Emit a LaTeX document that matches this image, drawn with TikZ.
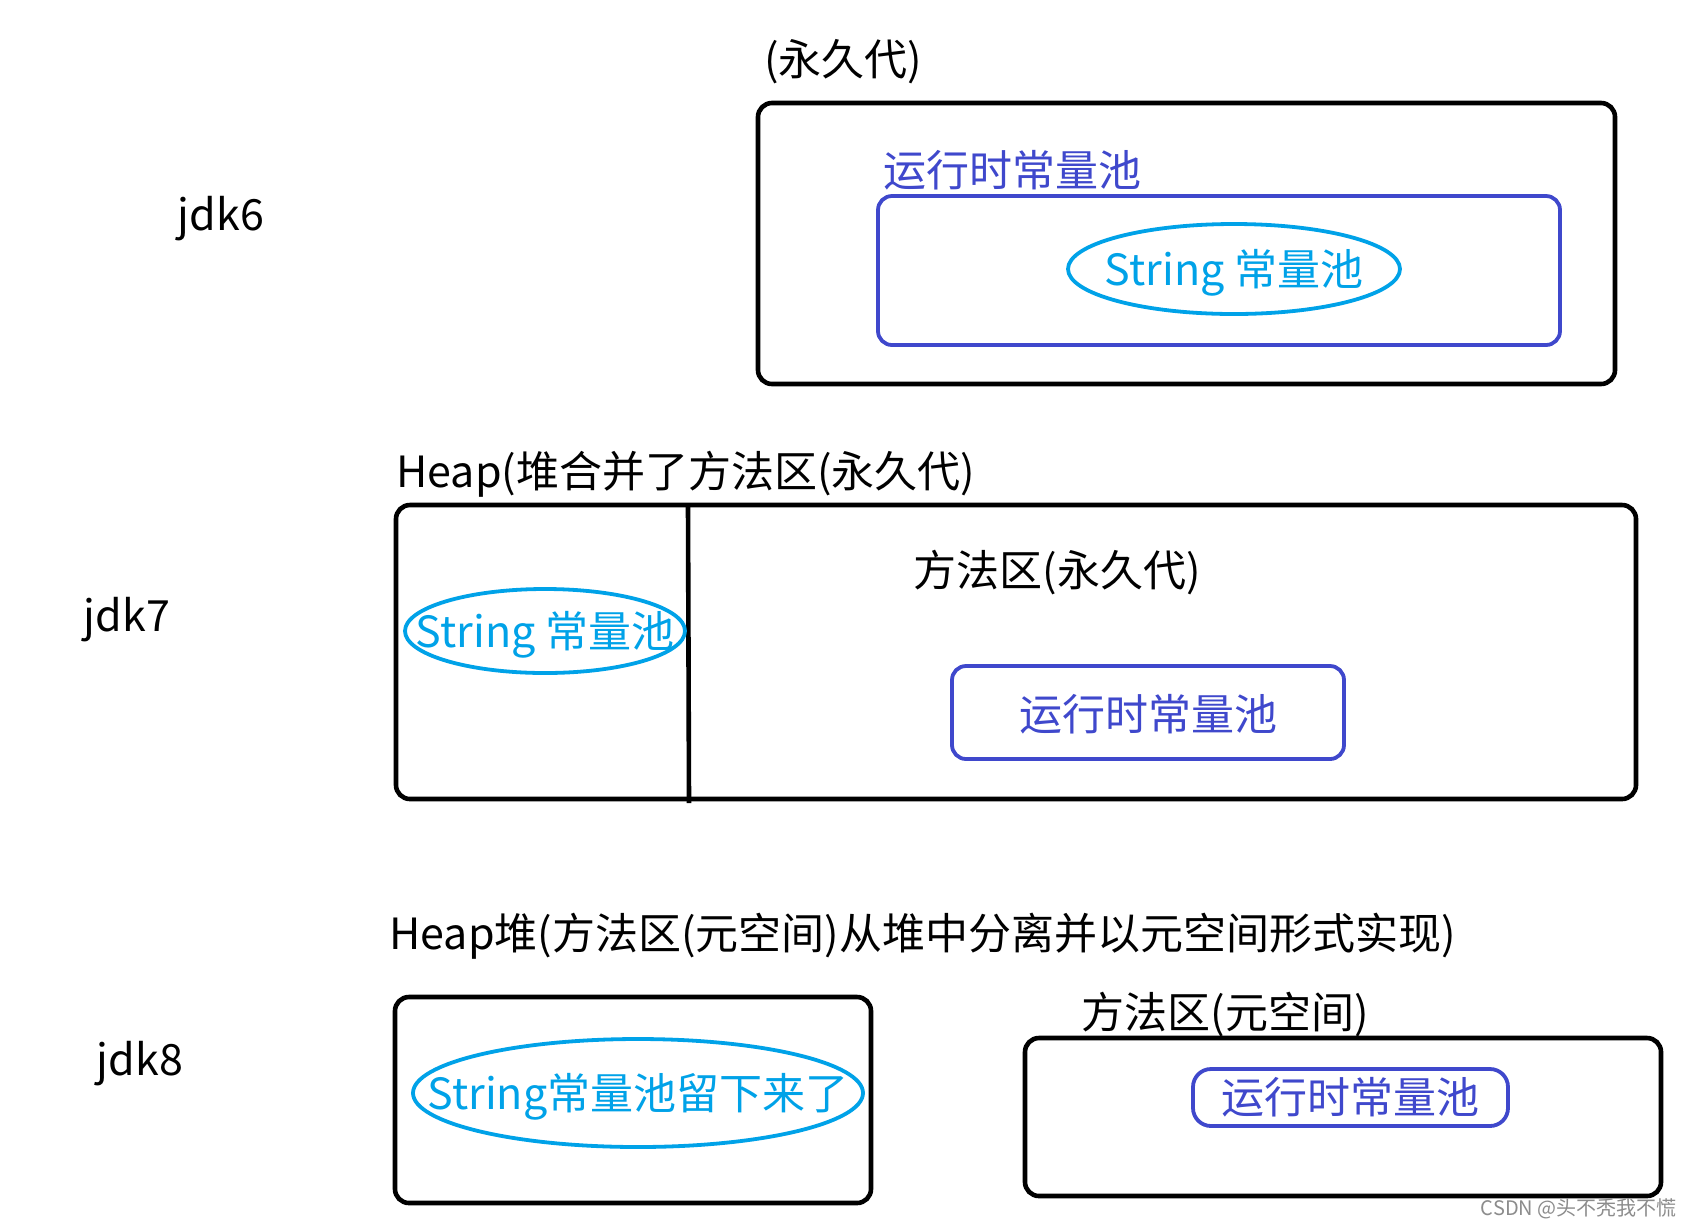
\documentclass[tikz,border=0pt]{standalone}
\usepackage{fontspec}
\setmainfont{Noto Sans CJK SC}
\usetikzlibrary{shapes.geometric}
\definecolor{indigo}{HTML}{3F48CC}
\definecolor{skyb}{HTML}{00A2E8}
\tikzset{
  lbl/.style={font=\fontsize{21.5pt}{24pt}\selectfont, inner sep=0pt, text=black, yshift=-1.5pt},
  bigbox/.style={draw=black, line width=2.3pt, rounded corners=7pt, inner sep=0pt},
  bluebox/.style={draw=indigo, line width=1.9pt, rounded corners=7pt, inner sep=0pt, text=indigo, font=\fontsize{21.5pt}{24pt}\selectfont},
  oval/.style={ellipse, draw=skyb, line width=1.9pt, inner sep=0pt},
  ovaltext/.style={inner sep=0pt, text=skyb, font=\fontsize{21.5pt}{24pt}\selectfont, yshift=-2pt},
}
\begin{document}
\begin{tikzpicture}[x=0.5pt, y=-0.5pt]
\useasboundingbox[fill=white] (0,0) rectangle (1693,1228);
% jdk6
\node[lbl] (j6) at (221,216) {jdk6};
\node[lbl, anchor=west] (p6) at (764,59) {(永久代)};
\node[bigbox, minimum width=428.5pt, minimum height=140.5pt] (b6) at (1186.5,243.5) {};
\node[lbl, anchor=west, text=indigo, yshift=1.5pt] (r6) at (883,170) {运行时常量池};
\node[bluebox, minimum width=341pt, minimum height=74.5pt] (bl6) at (1219,270.5) {};
\node[oval, minimum width=166pt, minimum height=45pt] (e6) at (1234,269) {};
\node[ovaltext] (t6) at (e6.center) {String 常量池};
% jdk7
\node[lbl] (j7) at (127,617) {jdk7};
\node[lbl, anchor=west] (h7) at (396,471) {Heap(堆合并了方法区(永久代)};
\node[bigbox, minimum width=620pt, minimum height=147pt] (b7) at (1016,652) {};
\coordinate (d7t) at (688,505);
\coordinate (d7b) at (689,803);
\draw[line width=2.3pt] (d7t) -- (d7b);
\node[oval, minimum width=140pt, minimum height=42pt] (e7) at (545,631) {};
\node[ovaltext] (t7) at (e7.center) {String 常量池};
\node[lbl] (m7) at (1057,570) {方法区(永久代)};
\node[bluebox, minimum width=196pt, minimum height=46.5pt] (bl7) at (1148,712.5) {};
\node[ovaltext, text=indigo, yshift=1pt] (t7b) at (bl7.center) {运行时常量池};
% jdk8
\node[lbl] (j8) at (140,1061) {jdk8};
\node[lbl, anchor=west] (h8) at (389,933) {Heap堆(方法区(元空间)从堆中分离并以元空间形式实现)};
\node[bigbox, minimum width=238pt, minimum height=103pt] (bl8box) at (633,1100) {};
\node[oval, minimum width=225pt, minimum height=54pt] (e8) at (638,1093) {};
\node[ovaltext] (t8) at (e8.center) {String常量池留下来了};
\node[lbl] (m8) at (1225,1012) {方法区(元空间)};
\node[bigbox, minimum width=318pt, minimum height=79pt] (br8) at (1343,1117) {};
\node[bluebox, rounded corners=9pt, minimum width=157.5pt, minimum height=28.5pt] (bl8) at (1350.5,1097.5) {运行时常量池};
% watermark
\node[inner sep=0pt, anchor=east, text=black!45, font=\fontsize{10pt}{12pt}\selectfont] (wm) at (1677,1209) {CSDN @头不秃我不慌};
\end{tikzpicture}
\end{document}
